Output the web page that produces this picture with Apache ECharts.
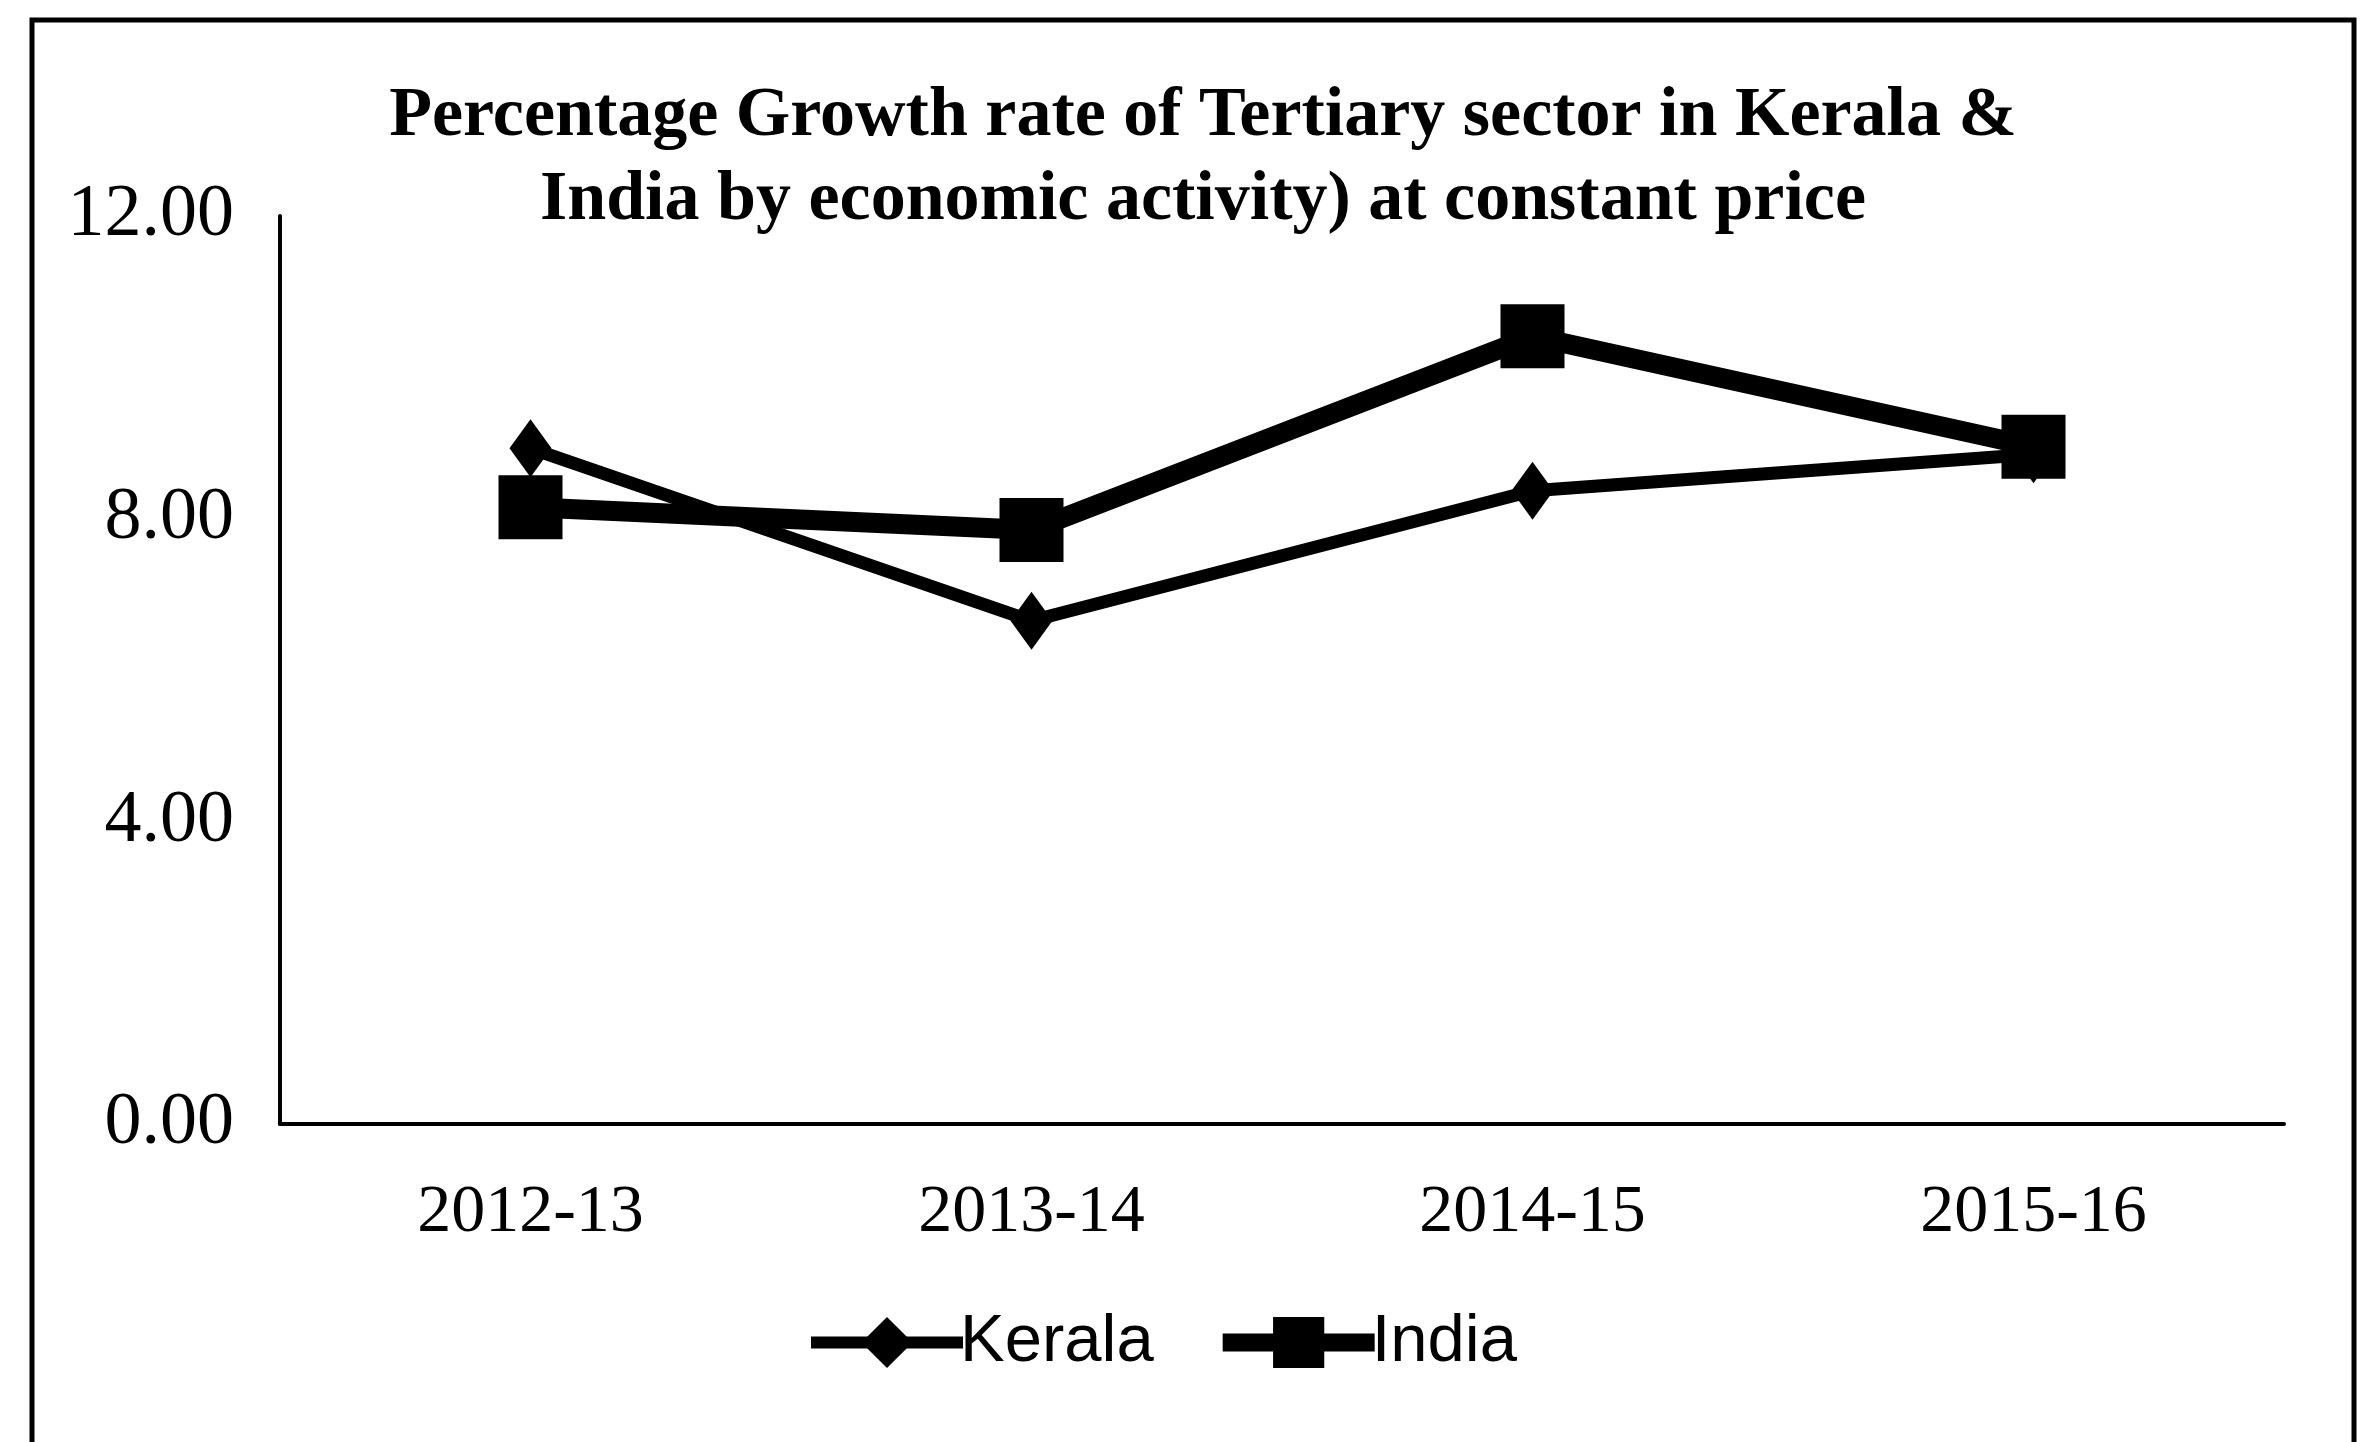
<!DOCTYPE html>
<html>
<head>
<meta charset="utf-8">
<title>Tertiary sector growth</title>
<script src="https://cdn.jsdelivr.net/npm/echarts@6/dist/echarts.min.js"></script>
<style>
  html, body { margin: 0; padding: 0; background: #fff; }
  #chart { width: 2366px; height: 1442px; }
</style>
</head>
<body>
<div id="chart"></div>
<script>
var years = ['2012-13', '2013-14', '2014-15', '2015-16']
var kerala = [8.93, 6.65, 8.37, 8.85]
var india = [8.15, 7.85, 10.41, 8.95]
var yTicks = { min: 0, max: 12, interval: 4 }

var serif = '"Liberation Serif", "Times New Roman", serif'
var sans = '"Liberation Sans", Arial, sans-serif'

var chart = echarts.init(document.getElementById('chart'))
chart.setOption({
  backgroundColor: '#fff',
  animation: false,
  title: {
    text: 'Percentage Growth rate of Tertiary sector in Kerala &\nIndia by economic activity) at constant price',
    left: 1198,
    top: 70,
    textAlign: 'center',
    textStyle: {
      fontFamily: serif,
      fontWeight: 'bold',
      fontSize: 70,
      lineHeight: 84,
      color: '#000'
    }
  },
  grid: {
    left: 280,
    right: 82,
    top: 216,
    bottom: 318
  },
  legend: {
    data: [
      { name: 'Kerala', lineStyle: { width: 12 } },
      { name: 'India', lineStyle: { width: 18 } }
    ],
    left: 800,
    top: 1304,
    itemWidth: 152,
    itemHeight: 64,
    itemGap: 60,
    textStyle: {
      fontFamily: sans,
      fontSize: 67,
      color: '#000',
      padding: [0, 0, 0, -8]
    }
  },
  xAxis: {
    type: 'category',
    data: years,
    boundaryGap: true,
    axisLine: { lineStyle: { color: '#000', width: 4 } },
    axisTick: { show: false },
    axisLabel: {
      margin: 55,
      fontFamily: serif,
      fontSize: 68,
      color: '#000'
    }
  },
  yAxis: {
    type: 'value',
    min: yTicks.min,
    max: yTicks.max,
    interval: yTicks.interval,
    axisLine: { show: true, lineStyle: { color: '#000', width: 4 } },
    axisTick: { show: false },
    splitLine: { show: false },
    axisLabel: {
      margin: 46,
      fontFamily: serif,
      fontSize: 74,
      color: '#000',
      formatter: function (v) { return v.toFixed(2) }
    }
  },
  series: [
    {
      name: 'Kerala',
      type: 'line',
      data: kerala,
      symbol: 'diamond',
      symbolSize: [42, 58],
      lineStyle: { color: '#000', width: 13 },
      itemStyle: { color: '#000' },
      z: 3
    },
    {
      name: 'India',
      type: 'line',
      data: india,
      symbol: 'rect',
      symbolSize: 64,
      lineStyle: { color: '#000', width: 20 },
      itemStyle: { color: '#000' },
      z: 2
    }
  ],
  graphic: [
    {
      type: 'rect',
      shape: { x: 32, y: 20, width: 2322, height: 1440 },
      style: { fill: 'none', stroke: '#000', lineWidth: 5 },
      silent: true
    }
  ]
})
</script>
</body>
</html>
